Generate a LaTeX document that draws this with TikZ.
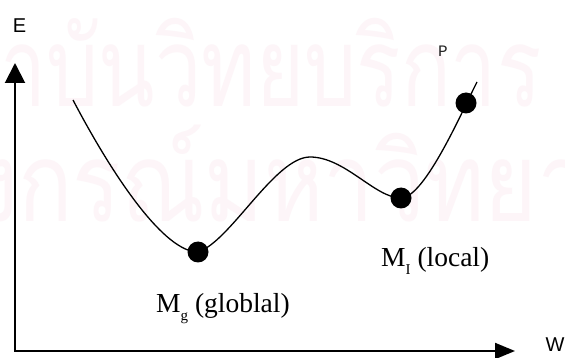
\documentclass[tikz,border=0pt]{standalone}
\usepackage{fontspec}
\setmainfont{Liberation Serif}
\newfontfamily\thaiwm[Script=Thai]{Loma}
\newfontfamily\axisfont{Liberation Sans}
\newfontfamily\pfont{Liberation Mono}
\usetikzlibrary{arrows.meta}
\definecolor{wmpink}{RGB}{253,245,248}
\newcommand\lowsub[1]{\raisebox{-0.3em}{\fontsize{15}{15}\selectfont #1}}
\begin{document}
\begin{tikzpicture}[x=1pt,y=-1pt,
  axes/.style={line width=2pt,
    {Triangle[length=20pt,width=20pt]}-{Triangle[length=20pt,width=16pt]}},
  curve/.style={line width=1.3pt},
  dotnode/.style={circle, fill=black, inner sep=0pt, minimum size=21pt},
  lbl/.style={inner sep=0pt, font=\fontsize{27.5}{30}\selectfont, anchor=base west},
  axislbl/.style={inner sep=0pt, font=\axisfont\fontsize{20}{20}\selectfont},
  plbl/.style={inner sep=0pt, font=\pfont\fontsize{16}{16}\selectfont, text=black!85},
  wm/.style={inner sep=0pt, text=wmpink, font=\thaiwm\fontsize{110}{110}\selectfont, anchor=base west}]
\path[use as bounding box, fill=white] (0,0) rectangle (565,358);
% watermark
\begin{scope}
\clip (0,0) rectangle (565,358);
\node[wm] (wm1) at (0,107) {\scalebox{0.75}[1]{\makebox[0pt][r]{สถ}าบันวิทยบริการ}};
\node[wm] (wm2) at (18,222) {\scalebox{0.82}[1]{\makebox[0pt][r]{จุฬาลง}กรณ์มหาวิทยาลัย}};
\end{scope}
% axes
\coordinate (Ytip) at (15,63);
\coordinate (O) at (15,351);
\coordinate (Xtip) at (515,351);
\draw[axes] (Ytip) -- (O) -- (Xtip);
\node[axislbl] (E) at (19.5,25.5) {E};
\node[axislbl] (W) at (555,345) {W};
% dots
\node[dotnode] (dg) at (198,252) {};
\node[dotnode] (dl) at (401,198) {};
\node[dotnode] (dp) at (466,103) {};
\coordinate (cstart) at (73,100);
\coordinate (cpeak) at (310,157);
\coordinate (cend) at (477,82);
% curve
\draw[curve] (cstart) .. controls (115,180) and (165,252) .. (dg.center)
  .. controls (230,242) and (275,157) .. (cpeak)
  .. controls (345,157) and (375,198) .. (dl.center)
  .. controls (425,198) and (464,107) .. (cend);
% labels
\node[plbl] (P) at (443,51) {P};
\node[lbl] (mg) at (156,312) {M\lowsub{g} (globlal)};
\node[lbl] (ml) at (381,266) {M\lowsub{I} (local)};
\end{tikzpicture}
\end{document}
